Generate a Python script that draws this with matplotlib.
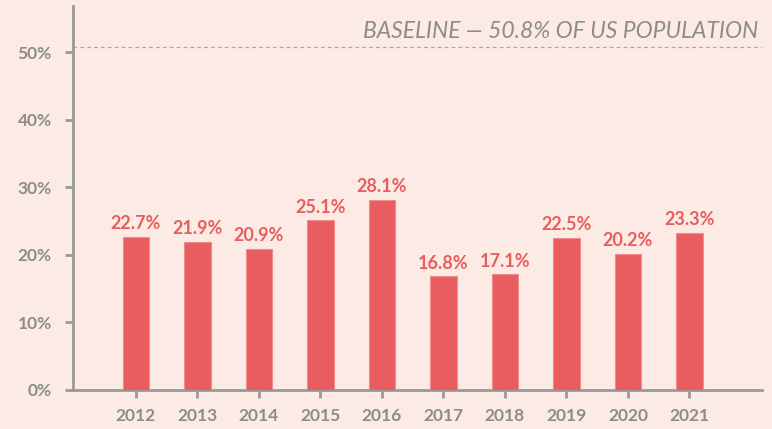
import matplotlib
matplotlib.use("Agg")
import matplotlib.pyplot as plt
import numpy as np

# share of population, by year
years = ["2012", "2013", "2014", "2015", "2016", "2017", "2018", "2019", "2020", "2021"]
share = [22.7, 21.9, 20.9, 25.1, 28.1, 16.8, 17.1, 22.5, 20.2, 23.3]
baseline = 50.8
yticks = [0, 10, 20, 30, 40, 50]

bg = "#FBEBE4"
red = "#E85D5F"
grey = "#999999"
text_grey = "#8C8C8C"

plt.rcParams['font.family'] = ['Lato', 'DejaVu Sans']

fig = plt.figure(figsize=(7.72, 4.29), dpi=100, facecolor=bg)
ax = fig.add_axes([0.094, 0.091, 0.893, 0.896])
ax.set_facecolor(bg)

x = np.arange(len(years))
ax.bar(x, share, width=0.43, color=red, edgecolor="#F08C8C", linewidth=0.8, zorder=3)
for xi, v in zip(x, share):
    ax.annotate(f"{v}%", (xi, v), xytext=(0, 3.5), textcoords="offset points",
                ha="center", va="bottom", color=red, fontsize=13, fontweight="bold")

# baseline reference
ax.axhline(baseline, color="#AAAAAA", lw=0.9, ls=(0, (3, 2.5)), zorder=2)
ax.text(0.995, 0.932, "BASELINE — 50.8% OF US POPULATION", transform=ax.transAxes,
        ha="right", va="center", fontsize=16.5, style="italic", color=text_grey)

ax.set_xlim(-1.03, 10.18)
ax.set_ylim(0, 56.9)
ax.set_xticks(x)
ax.set_xticklabels(years)
ax.set_yticks(yticks)
ax.set_yticklabels([f"{t}%" for t in yticks])

for side in ("top", "right"):
    ax.spines[side].set_visible(False)
for side in ("left", "bottom"):
    ax.spines[side].set_color(grey)
    ax.spines[side].set_linewidth(2)

ax.tick_params(axis="both", colors=grey, width=2, length=6, labelsize=12.5,
               labelcolor=text_grey)
ax.tick_params(axis="x", pad=7)
ax.tick_params(axis="y", pad=9)
for lab in ax.get_xticklabels() + ax.get_yticklabels():
    lab.set_fontweight("bold")

fig.savefig("out.png", dpi=100, facecolor=bg)
